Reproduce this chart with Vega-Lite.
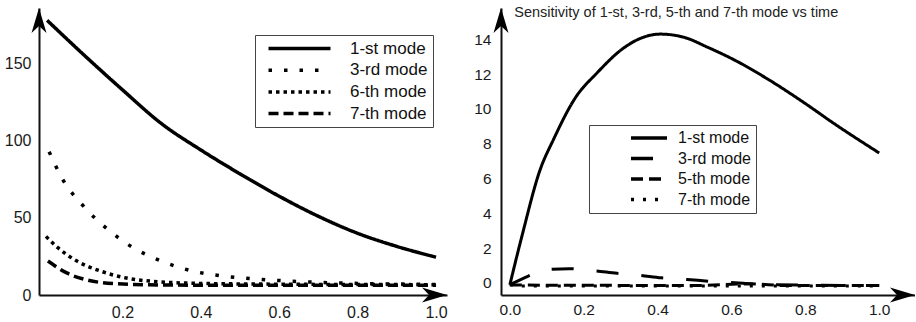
{
  "$schema": "https://vega.github.io/schema/vega-lite/v6.json",
  "padding": {"left": 4, "top": 5, "right": 0, "bottom": 0},
  "background": "white",
  "config": {
    "font": "Liberation Sans",
    "view": {"stroke": null},
    "concat": {"spacing": 25},
    "axis": {"ticks": false, "grid": false, "domainColor": "#111", "domainWidth": 2, "labelColor": "#1a1a1a", "title": null}
  },
  "datasets": {
    "left": [
      {"t": 0.008, "value": 178, "mode": "1-st mode"},
      {"t": 0.1, "value": 156, "mode": "1-st mode"},
      {"t": 0.2, "value": 133, "mode": "1-st mode"},
      {"t": 0.3, "value": 111, "mode": "1-st mode"},
      {"t": 0.4, "value": 94, "mode": "1-st mode"},
      {"t": 0.5, "value": 78.5, "mode": "1-st mode"},
      {"t": 0.6, "value": 64, "mode": "1-st mode"},
      {"t": 0.7, "value": 51, "mode": "1-st mode"},
      {"t": 0.8, "value": 40, "mode": "1-st mode"},
      {"t": 0.9, "value": 31.5, "mode": "1-st mode"},
      {"t": 1.0, "value": 24.5, "mode": "1-st mode"},
      {"t": 0.013, "value": 92.9, "mode": "3-rd mode"},
      {"t": 0.048, "value": 74.7, "mode": "3-rd mode"},
      {"t": 0.1, "value": 57.8, "mode": "3-rd mode"},
      {"t": 0.158, "value": 43.5, "mode": "3-rd mode"},
      {"t": 0.224, "value": 31.2, "mode": "3-rd mode"},
      {"t": 0.298, "value": 22.1, "mode": "3-rd mode"},
      {"t": 0.378, "value": 15.6, "mode": "3-rd mode"},
      {"t": 0.457, "value": 12.3, "mode": "3-rd mode"},
      {"t": 0.538, "value": 10.4, "mode": "3-rd mode"},
      {"t": 0.62, "value": 9.1, "mode": "3-rd mode"},
      {"t": 0.7, "value": 8.2, "mode": "3-rd mode"},
      {"t": 0.8, "value": 7.5, "mode": "3-rd mode"},
      {"t": 0.9, "value": 7.1, "mode": "3-rd mode"},
      {"t": 1.0, "value": 6.8, "mode": "3-rd mode"},
      {"t": 0.005, "value": 38, "mode": "6-th mode"},
      {"t": 0.036, "value": 30.5, "mode": "6-th mode"},
      {"t": 0.084, "value": 22, "mode": "6-th mode"},
      {"t": 0.143, "value": 15.6, "mode": "6-th mode"},
      {"t": 0.21, "value": 11, "mode": "6-th mode"},
      {"t": 0.27, "value": 9, "mode": "6-th mode"},
      {"t": 0.4, "value": 7.5, "mode": "6-th mode"},
      {"t": 0.6, "value": 7, "mode": "6-th mode"},
      {"t": 0.8, "value": 6.8, "mode": "6-th mode"},
      {"t": 1.0, "value": 6.7, "mode": "6-th mode"},
      {"t": 0.01, "value": 22, "mode": "7-th mode"},
      {"t": 0.058, "value": 14.3, "mode": "7-th mode"},
      {"t": 0.11, "value": 9.7, "mode": "7-th mode"},
      {"t": 0.186, "value": 7.3, "mode": "7-th mode"},
      {"t": 0.3, "value": 6.5, "mode": "7-th mode"},
      {"t": 0.5, "value": 6.3, "mode": "7-th mode"},
      {"t": 1.0, "value": 6.3, "mode": "7-th mode"}
    ],
    "right": [
      {"t": 0, "value": -0.1, "mode": "1-st mode"},
      {"t": 0.0325, "value": 2.68, "mode": "1-st mode"},
      {"t": 0.082, "value": 6.51, "mode": "1-st mode"},
      {"t": 0.118, "value": 8.24, "mode": "1-st mode"},
      {"t": 0.177, "value": 10.63, "mode": "1-st mode"},
      {"t": 0.236, "value": 12.07, "mode": "1-st mode"},
      {"t": 0.308, "value": 13.5, "mode": "1-st mode"},
      {"t": 0.353, "value": 14.05, "mode": "1-st mode"},
      {"t": 0.407, "value": 14.3, "mode": "1-st mode"},
      {"t": 0.471, "value": 14.12, "mode": "1-st mode"},
      {"t": 0.535, "value": 13.55, "mode": "1-st mode"},
      {"t": 0.611, "value": 12.78, "mode": "1-st mode"},
      {"t": 0.701, "value": 11.68, "mode": "1-st mode"},
      {"t": 0.791, "value": 10.44, "mode": "1-st mode"},
      {"t": 0.882, "value": 9.1, "mode": "1-st mode"},
      {"t": 1.0, "value": 7.47, "mode": "1-st mode"},
      {"t": 0, "value": -0.1, "mode": "3-rd mode"},
      {"t": 0.05, "value": 0.4, "mode": "3-rd mode"},
      {"t": 0.1, "value": 0.78, "mode": "3-rd mode"},
      {"t": 0.16, "value": 0.82, "mode": "3-rd mode"},
      {"t": 0.23, "value": 0.7, "mode": "3-rd mode"},
      {"t": 0.29, "value": 0.56, "mode": "3-rd mode"},
      {"t": 0.35, "value": 0.45, "mode": "3-rd mode"},
      {"t": 0.41, "value": 0.3, "mode": "3-rd mode"},
      {"t": 0.48, "value": 0.2, "mode": "3-rd mode"},
      {"t": 0.54, "value": 0.1, "mode": "3-rd mode"},
      {"t": 0.62, "value": 0.0, "mode": "3-rd mode"},
      {"t": 0.7, "value": -0.1, "mode": "3-rd mode"},
      {"t": 1.0, "value": -0.15, "mode": "3-rd mode"},
      {"t": 0, "value": -0.1, "mode": "5-th mode"},
      {"t": 0.03, "value": -0.12, "mode": "5-th mode"},
      {"t": 0.2, "value": -0.13, "mode": "5-th mode"},
      {"t": 0.5, "value": -0.15, "mode": "5-th mode"},
      {"t": 0.65, "value": -0.05, "mode": "5-th mode"},
      {"t": 0.75, "value": -0.15, "mode": "5-th mode"},
      {"t": 1.0, "value": -0.15, "mode": "5-th mode"},
      {"t": 0, "value": -0.1, "mode": "7-th mode"},
      {"t": 0.03, "value": -0.17, "mode": "7-th mode"},
      {"t": 1.0, "value": -0.17, "mode": "7-th mode"}
    ]
  },
  "hconcat": [
    {
      "width": 408,
      "height": 287,
      "layer": [
        {
          "data": {"name": "left"},
          "mark": {"type": "line", "color": "black", "strokeWidth": 3.5, "strokeCap": "butt", "interpolate": "monotone"},
          "encoding": {
            "x": {"field": "t", "type": "quantitative", "scale": {"domain": [-0.0128, 1.028], "nice": false, "zero": false},
                  "axis": {"values": [0.2, 0.4, 0.6, 0.8, 1.0], "format": ".1f", "labelFontSize": 16, "labelPadding": 9}},
            "y": {"field": "value", "type": "quantitative", "scale": {"domain": [0, 186], "nice": false},
                  "axis": {"values": [0, 50, 100, 150], "labelFontSize": 16, "labelPadding": 8}},
            "strokeDash": {"field": "mode", "type": "nominal",
              "scale": {"domain": ["1-st mode", "3-rd mode", "6-th mode", "7-th mode"], "range": [[1, 0], [3.5, 12], [3.5, 4], [10, 5]]},
              "legend": {"title": null, "orient": "none", "legendX": 216, "legendY": 27, "strokeColor": "#444", "fillColor": "white", "padding": 5,
                "symbolType": "M-6.2,0H6.2", "symbolSize": 100, "symbolStrokeWidth": 3.5, "symbolStrokeColor": "black",
                "symbolOffset": 31, "labelOffset": 42, "labelFontSize": 17, "rowPadding": 3.7, "labelColor": "#111"}}
          }
        },
        {
          "data": {"values": [{}]},
          "mark": {"type": "point", "shape": "M0,0L-1,-0.3L-0.72,0L-1,0.3Z", "filled": true, "size": 2500, "color": "black", "opacity": 1},
          "encoding": {"x": {"datum": 1.028, "type": "quantitative"}, "y": {"datum": 0, "type": "quantitative"}}
        },
        {
          "data": {"values": [{}]},
          "mark": {"type": "point", "shape": "M0,0L-0.3,1L0,0.72L0.3,1Z", "filled": true, "size": 2500, "color": "black", "opacity": 1},
          "encoding": {"x": {"datum": -0.0128, "type": "quantitative"}, "y": {"datum": 186, "type": "quantitative"}}
        }
      ]
    },
    {
      "width": 414,
      "height": 287,
      "layer": [
        {
          "data": {"name": "right"},
          "mark": {"type": "line", "color": "black", "strokeWidth": 3, "strokeCap": "butt", "interpolate": "monotone"},
          "encoding": {
            "x": {"field": "t", "type": "quantitative", "scale": {"domain": [-0.024, 1.097], "nice": false, "zero": false},
                  "axis": {"values": [0, 0.2, 0.4, 0.6, 0.8, 1.0], "format": ".1f", "labelFontSize": 15.5, "labelPadding": 7}},
            "y": {"field": "value", "type": "quantitative", "scale": {"domain": [-0.69, 15.8], "nice": false, "zero": false},
                  "axis": {"values": [0, 2, 4, 6, 8, 10, 12, 14], "format": "d", "labelFontSize": 15.5, "labelPadding": 10}},
            "strokeDash": {"field": "mode", "type": "nominal",
              "scale": {"domain": ["1-st mode", "3-rd mode", "5-th mode", "7-th mode"], "range": [[1, 0], [22, 23], [12, 6], [3, 9]]},
              "legend": {"title": null, "orient": "none", "legendX": 88, "legendY": 117, "strokeColor": "#444", "fillColor": "white", "padding": 5,
                "symbolType": "M-3.6,0H3.6", "symbolSize": 100, "symbolStrokeWidth": 3.5, "symbolStrokeColor": "black",
                "symbolOffset": 47, "labelOffset": 21, "labelFontSize": 16, "rowPadding": 4.5, "labelColor": "#111"}}
          }
        },
        {
          "data": {"values": [{}]},
          "mark": {"type": "text", "text": "Sensitivity of 1-st, 3-rd, 5-th and 7-th mode vs time", "align": "left", "baseline": "middle", "fontSize": 14.5, "color": "#222"},
          "encoding": {"x": {"datum": 0.012, "type": "quantitative"}, "y": {"datum": 15.5, "type": "quantitative"}}
        },
        {
          "data": {"values": [{}]},
          "mark": {"type": "point", "shape": "M0,0L-1,-0.3L-0.72,0L-1,0.3Z", "filled": true, "size": 2500, "color": "black", "opacity": 1},
          "encoding": {"x": {"datum": 1.097, "type": "quantitative"}, "y": {"datum": -0.69, "type": "quantitative"}}
        },
        {
          "data": {"values": [{}]},
          "mark": {"type": "point", "shape": "M0,0L-0.3,1L0,0.72L0.3,1Z", "filled": true, "size": 2500, "color": "black", "opacity": 1},
          "encoding": {"x": {"datum": -0.024, "type": "quantitative"}, "y": {"datum": 15.8, "type": "quantitative"}}
        }
      ]
    }
  ],
  "resolve": {"scale": {"strokeDash": "independent", "x": "independent", "y": "independent"}, "legend": {"strokeDash": "independent"}}
}
